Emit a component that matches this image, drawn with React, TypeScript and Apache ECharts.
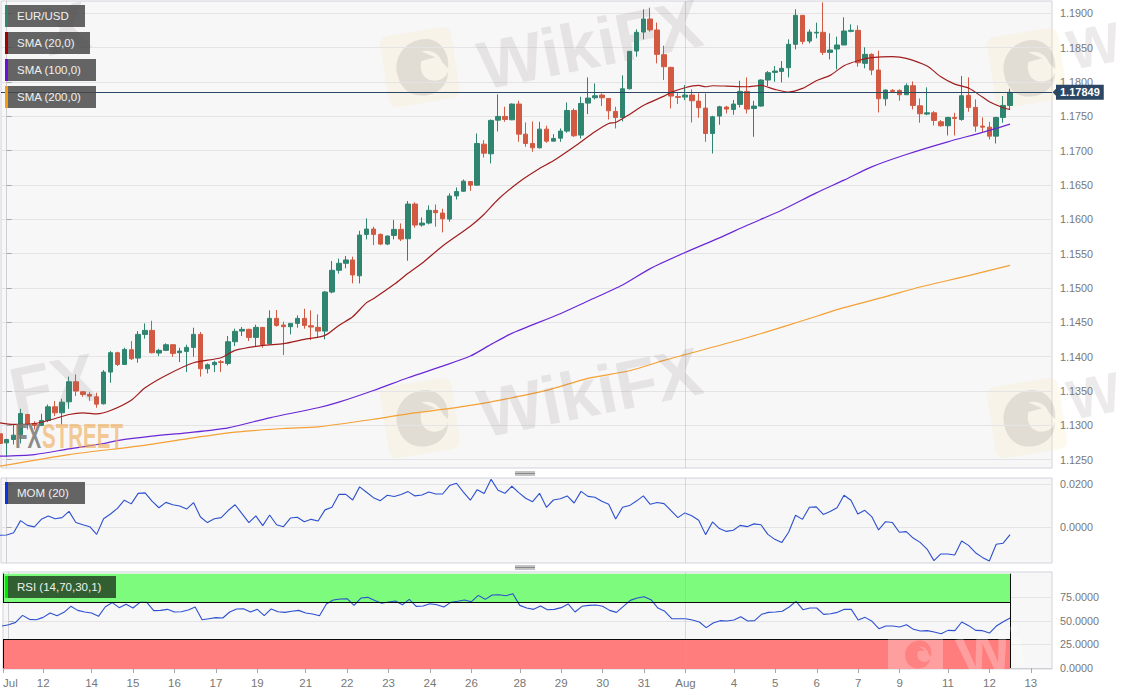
import React, { useEffect, useRef } from "react";
import * as echarts from "echarts";

// ---- Data ----
const firstBar = -1;
// open, close, low, high of each 4h candle
const candles: number[][] = [
  [1.12876,1.12735,1.12671,1.12914],[1.12744,1.12793,1.1255,1.12803],[1.12793,1.12856,1.1272,1.13012],[1.12866,1.13172,1.12735,1.1324],
  [1.13157,1.13012,1.12939,1.13167],[1.13026,1.12997,1.12939,1.1306],[1.12997,1.1307,1.12987,1.13167],[1.1307,1.13269,1.13046,1.13303],
  [1.13269,1.13182,1.13133,1.13352],[1.13182,1.13337,1.13012,1.13386],[1.13342,1.13634,1.1324,1.13709],[1.13634,1.13498,1.13425,1.13741],
  [1.13488,1.13449,1.13415,1.13498],[1.13449,1.13425,1.13357,1.13483],[1.13415,1.13308,1.13255,1.13473],[1.13313,1.13775,1.13303,1.13804],
  [1.13775,1.14057,1.13619,1.14081],[1.14057,1.13886,1.13862,1.14071],[1.13886,1.14105,1.13882,1.14129],[1.141,1.13969,1.1395,1.14227],
  [1.13979,1.14324,1.13911,1.14372],[1.14324,1.14382,1.14261,1.14484],[1.14382,1.14057,1.14047,1.14523],[1.14052,1.14091,1.14008,1.14115],
  [1.14091,1.14173,1.14081,1.14193],[1.14173,1.14047,1.13998,1.14183],[1.14057,1.14081,1.13921,1.14129],[1.14076,1.14134,1.13775,1.14173],
  [1.14134,1.14324,1.13998,1.14421],[1.14324,1.13823,1.13709,1.14358],[1.13823,1.13882,1.13755,1.13901],[1.13882,1.13916,1.13775,1.1394],
  [1.13925,1.13916,1.13775,1.1395],[1.13901,1.14217,1.13872,1.143],[1.14217,1.14368,1.14154,1.14407],[1.14372,1.14397,1.143,1.14431],
  [1.14397,1.1428,1.14227,1.14407],[1.1428,1.14426,1.14144,1.14465],[1.14426,1.14173,1.14129,1.14426],[1.14188,1.14557,1.14173,1.14674],
  [1.14557,1.14455,1.14436,1.14679],[1.1446,1.14436,1.14023,1.14509],[1.14436,1.14484,1.14324,1.14484],[1.14484,1.14557,1.14421,1.14601],
  [1.14557,1.14455,1.14407,1.14698],[1.1445,1.14431,1.14241,1.14674],[1.14426,1.14372,1.14275,1.14615],[1.14372,1.14941,1.14251,1.14956],
  [1.14941,1.15257,1.14922,1.15393],[1.15257,1.15359,1.15209,1.15427],[1.15359,1.15408,1.15286,1.15466],[1.15408,1.15189,1.15067,1.15456],
  [1.15177,1.1577,1.15065,1.15833],[1.1578,1.15858,1.15707,1.16013],[1.15858,1.1578,1.15624,1.15892],[1.1578,1.15639,1.15624,1.15794],
  [1.15639,1.15756,1.15624,1.15765],[1.15765,1.15853,1.15707,1.15989],[1.15853,1.15712,1.15683,1.1594],[1.15717,1.16222,1.15396,1.16266],
  [1.16222,1.15916,1.15877,1.16246],[1.15916,1.15945,1.15892,1.16028],[1.15945,1.1613,1.15926,1.16203],[1.1613,1.16096,1.15892,1.16217],
  [1.16091,1.16008,1.15809,1.16154],[1.16003,1.16339,1.15964,1.16378],[1.16341,1.16404,1.16288,1.16463],[1.16409,1.16555,1.16399,1.16579],
  [1.1655,1.16497,1.16414,1.1655],[1.16497,1.17104,1.16492,1.1725],[1.17094,1.16963,1.169,1.17153],[1.16954,1.1744,1.16813,1.17454],
  [1.17444,1.17498,1.17279,1.17819],[1.17498,1.17454,1.1742,1.17639],[1.17449,1.17678,1.17444,1.17687],[1.17678,1.1724,1.17128,1.17726],
  [1.1724,1.17104,1.17056,1.1741],[1.17104,1.17041,1.16983,1.17425],[1.17041,1.17313,1.17031,1.1742],[1.17313,1.17138,1.17114,1.17362],
  [1.17138,1.17177,1.17138,1.1724],[1.17182,1.17284,1.17128,1.17323],[1.17284,1.17585,1.1726,1.17702],[1.17585,1.17216,1.17201,1.17614],
  [1.17226,1.17687,1.17177,1.17785],[1.17692,1.17765,1.17532,1.18066],[1.1777,1.17799,1.17746,1.17979],[1.17809,1.1777,1.17649,1.17833],
  [1.1776,1.1758,1.17454,1.1776],[1.17571,1.17483,1.17323,1.17639],[1.17483,1.17901,1.17425,1.18096],[1.17901,1.18446,1.17892,1.18446],
  [1.1845,1.18723,1.18368,1.18766],[1.18727,1.18917,1.18621,1.19058],[1.18917,1.18757,1.18732,1.19082],[1.18757,1.18402,1.18271,1.18864],
  [1.18397,1.18222,1.18028,1.18528],[1.18212,1.17794,1.17614,1.18222],[1.17789,1.17775,1.17678,1.17848],[1.1778,1.17809,1.17736,1.17955],
  [1.17809,1.17726,1.1741,1.17892],[1.17721,1.17624,1.17478,1.17833],[1.17619,1.1725,1.17128,1.17833],[1.1725,1.17493,1.16958,1.17508],
  [1.17503,1.17639,1.17376,1.17653],[1.17634,1.17605,1.17542,1.17653],[1.176,1.17678,1.17522,1.17736],[1.17673,1.17862,1.17629,1.18018],
  [1.17862,1.17605,1.17542,1.18066],[1.17614,1.17649,1.17201,1.17726],[1.17649,1.18028,1.17639,1.18037],[1.18028,1.18135,1.1794,1.18159],
  [1.18139,1.18159,1.18003,1.18232],[1.18154,1.18198,1.17994,1.18305],[1.18207,1.18548,1.18066,1.18621],[1.18548,1.1897,1.18475,1.19058],
  [1.1897,1.18591,1.18548,1.18975],[1.18596,1.18727,1.18562,1.18766],[1.18713,1.18723,1.18635,1.18864],[1.18723,1.18431,1.18392,1.1916],
  [1.18431,1.18465,1.18329,1.18708],[1.1848,1.18538,1.18183,1.18659],[1.18538,1.18742,1.18538,1.18941],[1.18737,1.18752,1.18723,1.18839],
  [1.18752,1.1828,1.18222,1.18825],[1.18271,1.18402,1.18198,1.18504],[1.18402,1.18173,1.181,1.18416],[1.18173,1.17755,1.17556,1.18455],
  [1.17755,1.17882,1.17653,1.17892],[1.17877,1.17862,1.17853,1.17897],[1.17877,1.17814,1.17726,1.17892],[1.17814,1.17945,1.17809,1.17979],
  [1.17945,1.17658,1.176,1.18008],[1.17653,1.17537,1.17406,1.1776],[1.17532,1.17551,1.17517,1.17921],[1.17551,1.1744,1.17367,1.17576],
  [1.1742,1.17362,1.17347,1.17444],[1.17362,1.17483,1.17221,1.17493],[1.17483,1.17469,1.17221,1.17551],[1.17454,1.17799,1.17435,1.18086],
  [1.17804,1.17629,1.17566,1.18066],[1.17629,1.17357,1.17274,1.17746],[1.17357,1.17342,1.17274,1.17483],[1.17342,1.17211,1.17162,1.1742],
  [1.17211,1.17483,1.17104,1.17493],[1.17483,1.17658,1.17406,1.17794],[1.17658,1.17849,1.176,1.17901],
];

const sma20Bars = [-1,1,4,6,9,11,13,15,18,20,23,27,31,33,37,40,43,46,48,50,52,53,56,58,60,63,67,69,71,74,77,79,82,85,87,88,90,92,95,96,98,100,101,102,104,107,109,111,113,115,117,119,121,123,125,128,130,133,135,137,139,141,142,144,145];
const sma20Values = [1.13036,1.13012,1.13026,1.1307,1.13157,1.13182,1.13167,1.13216,1.13366,1.13546,1.13726,1.13911,1.13984,1.14091,1.14164,1.14188,1.14251,1.14309,1.14455,1.14581,1.14786,1.14844,1.15053,1.15213,1.15359,1.15612,1.15899,1.16074,1.16288,1.1654,1.1674,1.16851,1.17056,1.17274,1.17396,1.1741,1.17527,1.17658,1.17794,1.17848,1.17916,1.1795,1.1793,1.17945,1.1794,1.1793,1.1795,1.17892,1.17853,1.17906,1.18018,1.18096,1.18237,1.18309,1.18353,1.18368,1.18344,1.18232,1.18076,1.17969,1.17911,1.1778,1.17712,1.17624,1.176];
const sma100Bars = [-1,4,9,14,16,21,26,32,38,45,48,53,58,63,67,70,73,80,84,89,93,98,103,107,112,117,121,125,130,136,141,145];
const sma100Values = [1.1255,1.12574,1.12657,1.12735,1.12778,1.12842,1.1289,1.12963,1.13109,1.13255,1.13337,1.13507,1.13692,1.13862,1.14008,1.14178,1.14339,1.14625,1.1481,1.15043,1.15282,1.15515,1.1573,1.15913,1.16132,1.16385,1.1657,1.16764,1.16944,1.17128,1.17265,1.17386];
const sma200Bars = [-1,9,19,26,33,40,45,53,58,63,69,73,78,84,90,95,98,107,115,121,127,132,139,145];
const sma200Values = [1.12404,1.12574,1.12696,1.12803,1.129,1.12953,1.12978,1.13088,1.13167,1.13231,1.13323,1.13401,1.13508,1.13683,1.13794,1.13945,1.14028,1.14275,1.14523,1.14713,1.14873,1.15014,1.15179,1.1533];

const momValues = [-.0037,-.0036,-.0025,.0031,.0009,.0002,.0037,.0053,.004,.0045,.0074,.0022,.0012,.0003,-.0033,.004,.0062,.0088,.0126,.0109,.0158,.016,.0122,.0091,.0116,.0105,.0099,.0085,.0115,.0048,.0022,.004,.0045,.0078,.0105,.0064,.0022,.0053,.0008,.0057,.0012,.0003,.0043,.0047,.0026,.0037,.0029,.0081,.0093,.0153,.0153,.0127,.0188,.0163,.0138,
  .0124,.0149,.0143,.0153,.0166,.0146,.015,.0164,.0155,.0155,.0194,.0205,.0164,.0126,.0175,.0157,.0223,.0172,.0158,.0191,.0161,.0135,.0119,.0158,.0093,.0127,.0133,.0146,.0113,.0167,.0144,.014,.0121,.0107,.0039,.0093,.0101,.0122,.0146,.0107,.0115,.011,.0078,.0045,.0067,.0054,.0033,-.0034,.0025,-.0006,-.0019,-.0014,.0009,.0003,
  .0016,.0012,-.0033,-.0056,-.0071,-.0023,.0056,.0037,.0093,.0095,.006,.0074,.0091,.0149,.0126,.0062,.0079,.005,-.0012,.0026,.0022,-.0023,-.002,-.005,-.007,-.0101,-.0155,-.0124,-.0124,-.0129,-.0064,-.0084,-.0118,-.014,-.0157,-.0079,-.0074,-.0034];
const rsiValues = [44.5,45.9,48.4,55.8,51.6,51.2,53.7,58.3,55.5,59,65.4,61.1,59.4,58.3,54.8,65,69.3,64,67.5,63.6,69.6,69.6,60.8,61.1,62.2,59.4,59.7,61.5,64.7,51.2,52.3,53.4,53,59.4,62.6,62.9,59.4,62.2,55.5,62.6,59.7,59,60.1,61.1,58.3,57.3,55.5,67.9,72.1,73.2,73.5,66.4,74.2,74.9,71.7,
  68.6,70,71,67.1,72.8,65.4,65.7,68.2,67.1,64.7,69.6,70.7,72.1,70.3,77,72.8,77.4,77.7,76.7,78.8,66.4,63.6,62.2,65.7,61.8,62.2,64,67.9,59.4,65.4,66.4,66.8,65.4,61.1,59,65.4,71.7,74.2,75.6,72.4,63.6,60.1,52.3,52.3,52.3,50.9,48.8,42.8,47.7,50.2,49.8,50.9,54.4,49.8,
  50.2,56.9,59,59.4,60.1,64.7,70.7,61.8,63.6,63.6,56.9,57.6,59,62.2,62.2,50.9,53.7,49.5,41.7,44.5,44.5,43.5,45.9,41,39.2,39.6,38.2,36.4,39.9,39.6,48.8,44.9,39.9,39.6,37.1,44.5,49.1,53];

const lastPrice = 1.17849;
const augustBar = 98;
const lastBar = 145;
const tickBars = [5,12,18,24,30,36,43,49,55,61,67,74,80,86,92,98,105,111,117,123,129,136,142,148];
const tickLabels = ["12","14","15","16","17","19","21","22","23","24","26","28","29","30","31","Aug","4","5","6","7","9","11","12","13"];
const priceTicks = [1.125,1.13,1.135,1.14,1.145,1.15,1.155,1.16,1.165,1.17,1.175,1.18,1.185,1.19];
const momTicks = [0,0.02];
const rsiTicks = [0,25,50,75];
const rsiHigh = 70, rsiLow = 30, rsiTop = 100;

// ---- Scales ----
const xMin = -0.824, xMax = 151.06;
const FONT = "'Liberation Sans', Arial, sans-serif";
const UP = "#2f8570", DOWN = "#d25a42";

echarts.graphic.registerShape(
  "wmEagle",
  echarts.graphic.extendPath(
    "M20 55 C18 28 42 8 68 13 C86 17 97 36 91 58 L84 48 C82 36 72 28 58 29 L76 40 L56 42 C50 56 56 70 70 72 C80 73 87 69 90 62 C88 80 72 92 52 90 C32 88 21 74 20 55 Z",
    {}
  )
);

const zip = (xs: number[], ys: number[]) => xs.map((x, i) => [x, ys[i]]);
const seq = (ys: number[]) => ys.map((y, i) => [firstBar + i, y]);

const logo = (cx: number, cy: number, bg: string, fg: string) => ({
  type: "group", x: cx, y: cy, rotation: 0.16, silent: true, z: 50,
  children: [
    { type: "rect", shape: { x: -36, y: -36, width: 72, height: 72, r: 8 }, style: { fill: bg } },
    { type: "wmEagle", x: -38, y: -36, scaleX: 0.72, scaleY: 0.72, style: { fill: fg } },
  ],
});
const wmText = (cx: number, cy: number, fill: string, text = "WikiFX", size = 68) => ({
  type: "text", x: cx, y: cy, rotation: 0.2, silent: true, z: 50,
  style: { text, align: "center", verticalAlign: "middle", fill, fontFamily: FONT, fontSize: size, fontWeight: "bold" },
});
const tag = (y: number, w: number, strip: string, label: string, box = "rgba(72,72,72,0.84)") => [
  { type: "rect", x: 8, y, shape: { width: w - 8, height: 22 }, style: { fill: box }, silent: true, z: 60 },
  { type: "rect", x: 5, y, shape: { width: 3, height: 22 }, style: { fill: strip }, silent: true, z: 60 },
  { type: "text", x: 17, y: y + 11, style: { text: label, fill: "#f0f0f0", fontFamily: FONT, fontSize: 11.5, align: "left", verticalAlign: "middle" }, silent: true, z: 61 },
];
const handle = (y: number) => [0, 1.5, 3].map((d) => ({
  type: "line", shape: { x1: 515, y1: y + d, x2: 535, y2: y + d }, style: { stroke: "#888", lineWidth: 1 }, silent: true,
}));

const WM = "rgba(125,112,112,0.15)";
const LOGO_BG = "rgba(248,232,185,0.26)";
const LOGO_FG = "rgba(120,115,120,0.17)";
const graphicElements: any[] = [
  logo(420, 67, LOGO_BG, LOGO_FG),
  logo(420, 418, LOGO_BG, LOGO_FG),
  logo(1027, 68, LOGO_BG, LOGO_FG),
  logo(1027, 418, LOGO_BG, LOGO_FG),
  { type: "rect", x: 888, y: 639, shape: { width: 55, height: 30 }, style: { fill: "rgba(255,255,255,0.26)" }, silent: true, z: 50 },
  { type: "wmEagle", x: 898, y: 636, scaleX: 0.36, scaleY: 0.36, style: { fill: "rgba(255,125,125,0.85)" }, silent: true, z: 51 },
  wmText(590, 44, WM),
  wmText(590, 392, WM),
  wmText(66, 28, WM, "X"),
  wmText(53, 384, WM, "FX"),
  wmText(1094, 46, WM, "W", 56),
  wmText(1094, 396, WM, "W", 56),
  wmText(992, 652, "rgba(255,255,255,0.26)", "Wi", 56),
  { type: "text", x: 15, y: 435, scaleX: 0.57, silent: true, z: 55, style: { text: "FX", fill: "rgba(120,120,120,0.85)", fontFamily: FONT, fontSize: 36, fontWeight: "bold", align: "left", verticalAlign: "middle" } },
  { type: "text", x: 42, y: 435, scaleX: 0.57, silent: true, z: 55, style: { text: "STREET", fill: "rgba(240,168,80,0.62)", fontFamily: FONT, fontSize: 36, fontWeight: "bold", align: "left", verticalAlign: "middle" } },
  ...tag(5, 85, "#2f8570", "EUR/USD"),
  ...tag(32, 90, "#a00000", "SMA (20,0)"),
  ...tag(59, 96, "#6a10d8", "SMA (100,0)"),
  ...tag(86, 96, "#f59b10", "SMA (200,0)"),
  ...tag(482, 85, "#0a33e0", "MOM (20)"),
  ...tag(576, 116, "#00e800", "RSI (14,70,30,1)", "rgba(48,92,48,0.98)"),
  ...handle(472),
  ...handle(566),
  { type: "polygon", shape: { points: [[1052.5, 92.3], [1056.5, 88.3], [1056.5, 96.3]] }, style: { fill: "#2c4763" }, silent: true, z: 60 },
];

const gridBase = { left: 1, width: 1051, show: true, backgroundColor: "#f7f7f8", borderColor: "#d2d3da", borderWidth: 1 };
const tickLine = { lineStyle: { color: "#a8a8a8", width: 1 }, length: 5 };
const yAxisCommon = (ticks: number[], digits: number) => ({
  type: "value", position: "right", scale: true,
  axisLine: { show: true, lineStyle: { color: "#cfcfd4" } },
  axisTick: { show: true, ...tickLine, customValues: ticks },
  axisLabel: { show: true, customValues: ticks, margin: 8, color: "#777", fontFamily: FONT, fontSize: 10.8, formatter: (v: number) => v.toFixed(digits) },
  splitLine: { show: true, lineStyle: { color: "#e4e4e6", width: 1 } },
});
const lineSeries = (name: string, data: number[][], color: string, axis: number, smooth: number | boolean, width = 1.2, extra = {}) => ({
  name, type: "line", xAxisIndex: axis, yAxisIndex: axis, data, symbol: "none", showSymbol: false, smooth, z: 4,
  lineStyle: { color, width }, itemStyle: { color }, ...extra,
});
const AUG = "rgba(170,170,175,0.4)";
const black = { color: "#0b0b0b", width: 1, type: "solid" };
const seg = (x1: number, y1: number, x2: number, y2: number, lineStyle: any) => [
  { coord: [x1, y1], lineStyle },
  { coord: [x2, y2] },
];

const option: any = {
  animation: false,
  backgroundColor: "#ffffff",
  textStyle: { fontFamily: FONT },
  graphic: { elements: graphicElements },
  grid: [
    { ...gridBase, top: 1, height: 467 },
    { ...gridBase, top: 478, height: 85 },
    { ...gridBase, top: 572, height: 97 },
  ],
  xAxis: [
    { type: "value", gridIndex: 0, min: xMin, max: xMax, show: false, splitLine: { show: false } },
    { type: "value", gridIndex: 1, min: xMin, max: xMax, show: false, splitLine: { show: false } },
    {
      type: "value", gridIndex: 2, min: xMin, max: xMax, position: "bottom",
      axisLine: { show: true, lineStyle: { color: "#cfcfd4" } },
      axisTick: { show: true, ...tickLine, customValues: [xMin, ...tickBars] },
      axisLabel: {
        show: true, customValues: [xMin, ...tickBars], color: "#777", fontFamily: FONT, fontSize: 11.5, margin: 8,
        alignMinLabel: "left", hideOverlap: false, showMinLabel: true, showMaxLabel: true,
        formatter: (v: number) => (v === xMin ? "Jul" : tickLabels[tickBars.indexOf(v)] ?? ""),
      },
      splitLine: { show: false },
    },
  ],
  yAxis: [
    { gridIndex: 0, min: 1.12378, max: 1.19179, ...yAxisCommon(priceTicks, 4) },
    { gridIndex: 1, min: -0.0166, max: 0.02293, ...yAxisCommon(momTicks, 4) },
    { gridIndex: 2, min: -1.06, max: 101.8, ...yAxisCommon(rsiTicks, 4) },
  ],
  series: [
    {
      name: "EUR/USD", type: "candlestick", xAxisIndex: 0, yAxisIndex: 0, barWidth: 5, z: 3,
      data: candles.map((c, i) => [firstBar + i, c[0], c[1], c[2], c[3]]),
      itemStyle: { color: UP, color0: DOWN, borderColor: UP, borderColor0: DOWN, borderColorDoji: UP, borderWidth: 1 },
      markLine: {
        silent: true, symbol: "none", animation: false, precision: 5,
        lineStyle: { color: "#2c4763", width: 1, type: "solid" },
        data: [
          {
            yAxis: lastPrice,
            label: {
              show: true, position: "end", distance: 4, formatter: () => lastPrice.toFixed(5),
              color: "#fff", fontFamily: FONT, fontSize: 11, fontWeight: "bold",
              backgroundColor: "#2c4763", padding: [2, 4, 2, 4],
            },
          },
          { xAxis: augustBar, lineStyle: { color: AUG, width: 1, type: "solid" }, label: { show: false } },
        ],
      },
    },
    lineSeries("SMA (20,0)", zip(sma20Bars, sma20Values), "#a11d1d", 0, 0.25),
    lineSeries("SMA (100,0)", zip(sma100Bars, sma100Values), "#6a27d6", 0, 0.25),
    lineSeries("SMA (200,0)", zip(sma200Bars, sma200Values), "#f4a034", 0, 0.25),
    lineSeries("MOM (20)", seq(momValues), "#2d50cf", 1, false, 1.1, {
      markLine: {
        silent: true, symbol: "none", animation: false, label: { show: false },
        lineStyle: { color: AUG, width: 1, type: "solid" },
        data: [{ xAxis: augustBar }],
      },
    }),
    lineSeries("RSI (14,70,30,1)", seq(rsiValues), "#2d50cf", 2, false, 1.1, {
      markLine: {
        silent: true, symbol: "none", animation: false, label: { show: false },
        lineStyle: { color: AUG, width: 1, type: "solid" },
        data: [
          { xAxis: augustBar },
          seg(xMin, rsiHigh, lastBar, rsiHigh, black),
          seg(xMin, rsiLow, lastBar, rsiLow, black),
          seg(lastBar, 0, lastBar, rsiTop, black),
          seg(xMin, 0, xMin, rsiLow, black),
          seg(xMin, rsiHigh, xMin, rsiTop, black),
        ],
      },
      markArea: {
        silent: true, animation: false,
        data: [
          [
            { xAxis: xMin, yAxis: rsiHigh, itemStyle: { color: "#7dfb7d", borderWidth: 0 } },
            { xAxis: lastBar, yAxis: rsiTop },
          ],
          [
            { xAxis: xMin, yAxis: -1.06, itemStyle: { color: "#ff7d7d", borderWidth: 0 } },
            { xAxis: lastBar, yAxis: rsiLow },
          ],
        ],
      },
    }),
  ],
};

export default function App() {
  const ref = useRef<HTMLDivElement>(null);
  useEffect(() => {
    document.body.style.margin = "0";
    document.body.style.background = "#fff";
    const chart = echarts.init(ref.current!, undefined, { renderer: "svg" });
    chart.setOption(option);
    return () => chart.dispose();
  }, []);
  return <div ref={ref} style={{ width: 1122, height: 695 }} />;
}
